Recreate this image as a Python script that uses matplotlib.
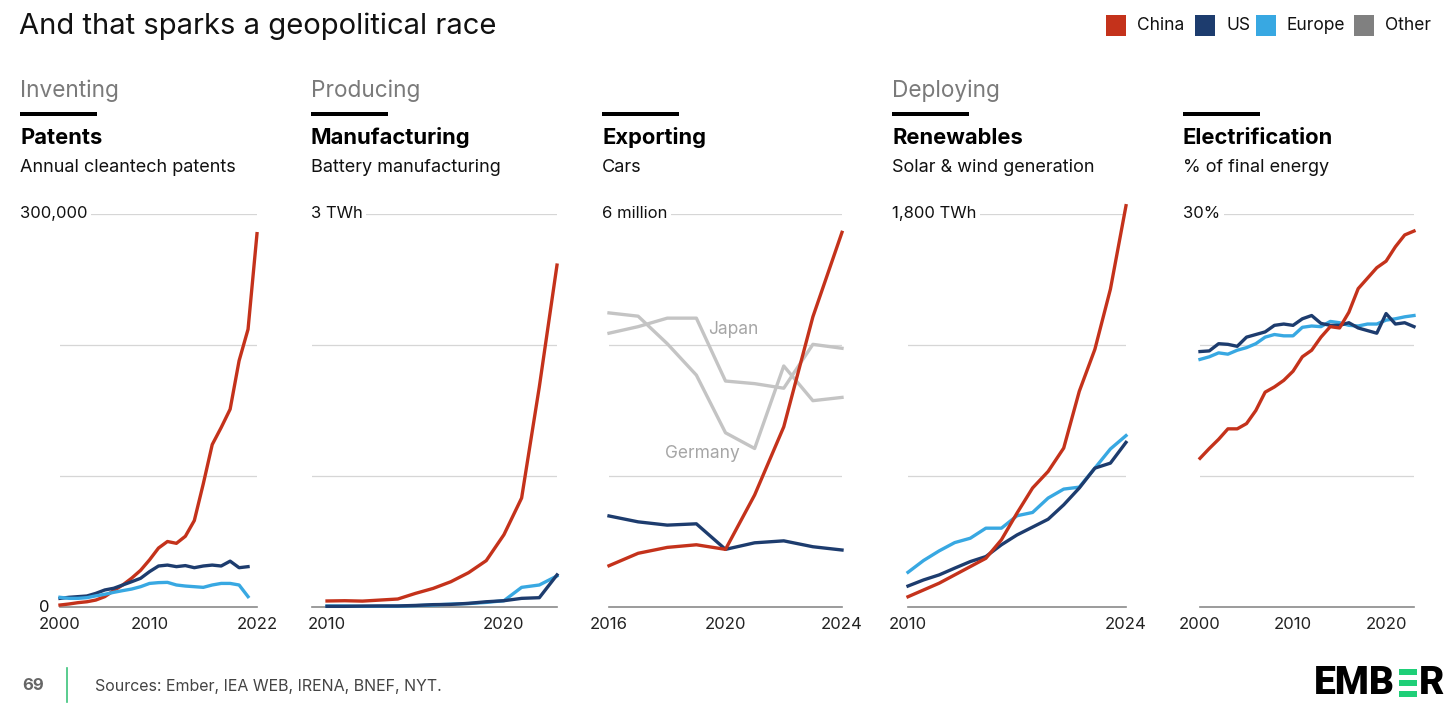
import matplotlib
matplotlib.use("Agg")
import matplotlib.pyplot as plt
from matplotlib.patches import Rectangle

W, H = 1456, 708
CHINA, US, EUROPE, OTHER = "#c4321b", "#1d3c6e", "#38a8e2", "#808080"
PEER = "#c4c4c4"
FONT = ["Inter", "DejaVu Sans"]
plt.rcParams["font.family"] = FONT

# ---- data ----
pat_years = list(range(2000, 2023))
pat_china = [1.5, 2.3, 3.3, 4.0, 5.3, 7.9, 12.5, 16.8, 22, 28, 36, 45, 50, 48.6, 54, 66,
             94, 124, 137, 151, 188, 212, 285]
pat_us = [6.6, 7.4, 7.9, 8.4, 10.4, 13, 14.3, 16.8, 19.3, 21.9, 27, 31.3, 32, 30.8, 31.6,
          30, 31.3, 32, 31.3, 35, 30, 30.8]
pat_europe = [7.4, 6.6, 6.6, 7.1, 8.5, 9.7, 11.2, 12.5, 13.7, 15.5, 18, 18.6, 18.8, 16.8,
              16, 15.5, 15, 16.8, 18, 18, 16.8, 7.9]

bat_years = list(range(2010, 2024))
bat_china = [0.046, 0.048, 0.045, 0.053, 0.061, 0.104, 0.142, 0.193, 0.262, 0.354, 0.552,
             0.832, 1.68, 2.61]
bat_us = [0.005, 0.005, 0.007, 0.008, 0.008, 0.012, 0.018, 0.02, 0.028, 0.04, 0.048, 0.066,
          0.071, 0.245]
bat_europe = [0.008, 0.008, 0.005, 0.006, 0.007, 0.010, 0.015, 0.022, 0.026, 0.035, 0.048,
              0.15, 0.168, 0.237]

car_years = list(range(2016, 2025))
car_china = [0.63, 0.82, 0.91, 0.95, 0.88, 1.71, 2.75, 4.43, 5.72]
car_us = [1.39, 1.30, 1.25, 1.27, 0.88, 0.98, 1.01, 0.92, 0.87]
car_japan = [4.18, 4.28, 4.41, 4.41, 3.45, 3.41, 3.34, 4.01, 3.95]
car_germany = [4.49, 4.44, 4.02, 3.54, 2.66, 2.42, 3.68, 3.15, 3.20]

ren_years = list(range(2010, 2025))
ren_china = [47, 78, 109, 147, 185, 223, 308, 430, 545, 621, 728, 988, 1180, 1456, 1838]
ren_us = [96, 124, 147, 178, 208, 231, 285, 330, 366, 402, 468, 545, 636, 659, 754]
ren_europe = [159, 213, 257, 295, 315, 361, 361, 418, 433, 499, 540, 549, 636, 724, 785]

ele_years = list(range(2000, 2024))
ele_china = [11.35, 12.1, 12.8, 13.6, 13.6, 14.0, 15.0, 16.4, 16.8, 17.3, 18.0, 19.1, 19.6,
             20.6, 21.4, 21.3, 22.5, 24.3, 25.1, 25.9, 26.4, 27.5, 28.4, 28.7]
ele_us = [19.5, 19.55, 20.1, 20.05, 19.9, 20.6, 20.8, 21.0, 21.5, 21.6, 21.5, 22.0, 22.25,
          21.65, 21.5, 21.5, 21.7, 21.3, 21.1, 20.9, 22.4, 21.6, 21.7, 21.4]
ele_europe = [18.9, 19.1, 19.4, 19.3, 19.6, 19.8, 20.1, 20.6, 20.8, 20.7, 20.7, 21.35, 21.45,
              21.4, 21.8, 21.7, 21.5, 21.45, 21.6, 21.6, 21.9, 22.0, 22.15, 22.25]

legend_names = ["China", "US", "Europe", "Other"]
legend_colors = [CHINA, US, EUROPE, OTHER]


def fx(x):
    return x / W


def fy(y):
    return 1 - y / H


fig = plt.figure(figsize=(W / 100, H / 100), dpi=100)

fig.text(fx(19), fy(26), "And that sparks a geopolitical race", fontsize=21,
         color="#111111", va="center", ha="left")

# legend boxes
lx = [1106, 1195, 1256, 1354]
for x, name, c in zip(lx, legend_names, legend_colors):
    fig.patches.append(Rectangle((fx(x), fy(36)), 20 / W, 21 / H, transform=fig.transFigure,
                                 facecolor=c, edgecolor="none"))
    fig.text(fx(x + 31), fy(25), name, fontsize=12.5, color="#111111", va="center")

panels = [
    dict(x0=60, x1=257, hx=20, cat="Inventing", title="Patents", sub="Annual cleantech patents",
         top="300,000", ymax=300000, xlim=(2000, 2022), ticks=[2000, 2010, 2022],
         series=[(pat_years, [v * 1000 for v in pat_china], CHINA),
                 (pat_years[:-1], [v * 1000 for v in pat_us], US),
                 (pat_years[:-1], [v * 1000 for v in pat_europe], EUROPE)]),
    dict(x0=312, x1=557, hx=311, cat="Producing", title="Manufacturing", sub="Battery manufacturing",
         top="3 TWh", ymax=3, xlim=(2009.15, 2023), ticks=[2010, 2020],
         series=[(bat_years, bat_china, CHINA), (bat_years, bat_europe, EUROPE),
                 (bat_years, bat_us, US)]),
    dict(x0=609, x1=842, hx=602, cat=None, title="Exporting", sub="Cars",
         top="6 million", ymax=6, xlim=(2016, 2024), ticks=[2016, 2020, 2024],
         series=[(car_years, car_japan, PEER), (car_years, car_germany, PEER),
                 (car_years, car_us, US), (car_years, car_china, CHINA)]),
    dict(x0=908, x1=1126, hx=892, cat="Deploying", title="Renewables", sub="Solar & wind generation",
         top="1,800 TWh", ymax=1800, xlim=(2010, 2024), ticks=[2010, 2024],
         series=[(ren_years, ren_europe, EUROPE), (ren_years, ren_us, US),
                 (ren_years, ren_china, CHINA)]),
    dict(x0=1200, x1=1414, hx=1183, cat=None, title="Electrification", sub="% of final energy",
         top="30%", ymax=30, xlim=(2000, 2023), ticks=[2000, 2010, 2020],
         series=[(ele_years, ele_europe, EUROPE), (ele_years, ele_us, US),
                 (ele_years, ele_china, CHINA)]),
]

for p in panels:
    ax = fig.add_axes([fx(p["x0"]), fy(607), (p["x1"] - p["x0"]) / W, 393 / H])
    ax.set_xlim(*p["xlim"])
    ax.set_ylim(0, p["ymax"])
    for frac in (1 / 3, 2 / 3, 1):
        ax.axhline(p["ymax"] * frac, color="#d6d6d6", lw=0.9, zorder=1)
    for yrs, vals, c in p["series"]:
        ax.plot(yrs, vals, color=c, lw=2.4, zorder=3, clip_on=False)
    for s in ("top", "left", "right"):
        ax.spines[s].set_visible(False)
    ax.spines["bottom"].set_color("#8a8a8a")
    ax.spines["bottom"].set_linewidth(1.2)
    ax.set_yticks([])
    ax.set_xticks(p["ticks"])
    ax.set_xticklabels([str(t) for t in p["ticks"]])
    ax.tick_params(axis="x", length=0, pad=7, labelsize=12, labelcolor="#222222")
    ax.patch.set_visible(False)

    hx = p["hx"]
    if p["cat"]:
        fig.text(fx(hx), fy(91), p["cat"], fontsize=16.3, color="#7a7a7a", va="center")
    fig.patches.append(Rectangle((fx(hx), fy(116)), 77 / W, 4 / H, transform=fig.transFigure,
                                 facecolor="#000000", edgecolor="none"))
    fig.text(fx(hx), fy(138), p["title"], fontsize=15.8, fontweight="bold", color="#000000",
             va="center")
    fig.text(fx(hx), fy(167), p["sub"], fontsize=13, color="#111111", va="center")
    fig.text(fx(hx), fy(214), p["top"], fontsize=12, color="#111111", va="center",
             bbox=dict(facecolor="white", edgecolor="none", pad=2.5))

fig.text(fx(49), fy(607), "0", fontsize=12, color="#111111", ha="right", va="center")

# labels for the peer lines in the exports panel
fig.text(fx(708), fy(329), "Japan", fontsize=12.5, color="#a6a6a6", va="center")
fig.text(fx(665), fy(453), "Germany", fontsize=12.5, color="#a6a6a6", va="center")

# footer
fig.text(fx(22), fy(685), "69", fontsize=12, fontweight="bold", color="#666666", va="center")
fig.add_artist(plt.Line2D([fx(67), fx(67)], [fy(668), fy(702)], color="#3cc47c", lw=1.2,
                          transform=fig.transFigure))
fig.text(fx(95), fy(686), "Sources: Ember, IEA WEB, IRENA, BNEF, NYT.", fontsize=11.5,
         color="#444444", va="center")

# Ember wordmark
fig.text(fx(1314), fy(683), "EMB", fontsize=28, fontweight="heavy", color="#000000",
         va="center", family=["Roboto", "DejaVu Sans"])
for yb in (669, 680, 691):
    fig.patches.append(Rectangle((fx(1399), fy(yb + 6)), 18 / W, 6 / H,
                                 transform=fig.transFigure, facecolor="#1fcf78",
                                 edgecolor="none"))
fig.text(fx(1419), fy(683), "R", fontsize=28, fontweight="heavy", color="#000000",
         va="center", family=["Roboto", "DejaVu Sans"])

fig.savefig("out.png", dpi=100, facecolor="white")
